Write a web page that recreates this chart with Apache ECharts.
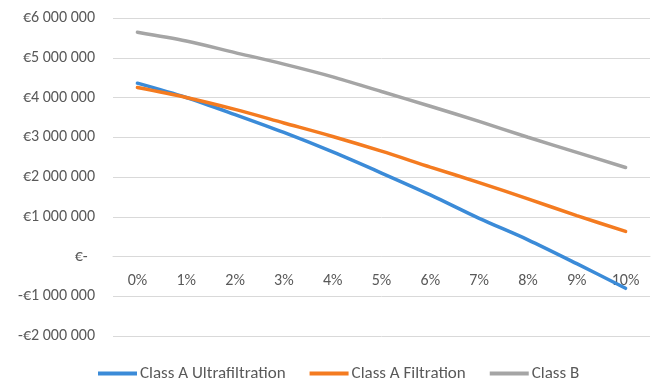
<!DOCTYPE html>
<html>
<head>
<meta charset="utf-8">
<script src="https://cdn.jsdelivr.net/npm/echarts@6/dist/echarts.min.js"></script>
<style>
  html, body { margin: 0; padding: 0; background: #fff; }
  #chart { width: 656px; height: 383px; }
</style>
</head>
<body>
<div id="chart"></div>
<script>
// Discount rate categories
const rates = ['0%', '1%', '2%', '3%', '4%', '5%', '6%', '7%', '8%', '9%', '10%'];

// Net present value per scenario (EUR)
const ultrafiltration = [4360000, 4000000, 3570000, 3120000, 2630000, 2100000, 1550000, 960000, 420000, -180000, -800000];
const filtration = [4250000, 4000000, 3700000, 3360000, 3020000, 2650000, 2250000, 1860000, 1450000, 1030000, 630000];
const classB = [5640000, 5420000, 5130000, 4840000, 4520000, 4150000, 3780000, 3400000, 3000000, 2620000, 2240000];

const seriesNames = ['Class A Ultrafiltration', 'Class A Filtration', 'Class B'];
const seriesColors = ['#3B8BD8', '#F47B20', '#A5A5A5'];

const fontFamily = 'Carlito, Calibri, Lato, "Open Sans", sans-serif';
const textColor = '#595959';

// Accounting-style euro format: "€1 000 000", "-€1 000 000", "€-"
function euro(v) {
  if (v === 0) return '€-  ';
  const abs = Math.abs(v).toString().replace(/\B(?=(\d{3})+(?!\d))/g, ' ');
  return (v < 0 ? '-€' : '€') + abs;
}

const chart = echarts.init(document.getElementById('chart'), null, { renderer: 'canvas' });

const makeLine = (name, data, color) => ({
  name: name,
  type: 'line',
  data: data,
  smooth: 0.3,
  symbol: 'none',
  lineStyle: { color: color, width: 3.5, cap: 'round' },
  itemStyle: { color: color }
});

chart.setOption({
  animation: false,
  color: seriesColors,
  grid: { left: 113, right: 6, top: 18, bottom: 47 },
  legend: {
    bottom: 1,
    left: 98,
    padding: 0,
    icon: 'rect',
    itemWidth: 39,
    itemHeight: 4,
    itemGap: 24,
    textStyle: { color: textColor, fontSize: 17, fontFamily: fontFamily, padding: [0, 0, 0, -2] },
    data: seriesNames
  },
  xAxis: {
    type: 'category',
    data: rates,
    boundaryGap: true,
    axisLine: { onZero: true, lineStyle: { color: '#D9D9D9', width: 1 } },
    axisTick: { show: false },
    // labels sit just below the zero line
    axisLabel: { color: textColor, fontSize: 16, fontFamily: fontFamily, margin: -63 }
  },
  yAxis: {
    type: 'value',
    min: -2000000,
    max: 6000000,
    interval: 1000000,
    axisLine: { show: false },
    axisTick: { show: false },
    splitLine: { lineStyle: { color: '#D9D9D9', width: 1 } },
    axisLabel: { color: textColor, fontSize: 16, fontFamily: fontFamily, margin: 18, formatter: euro }
  },
  series: [
    makeLine(seriesNames[0], ultrafiltration, seriesColors[0]),
    makeLine(seriesNames[1], filtration, seriesColors[1]),
    makeLine(seriesNames[2], classB, seriesColors[2])
  ]
});
</script>
</body>
</html>
